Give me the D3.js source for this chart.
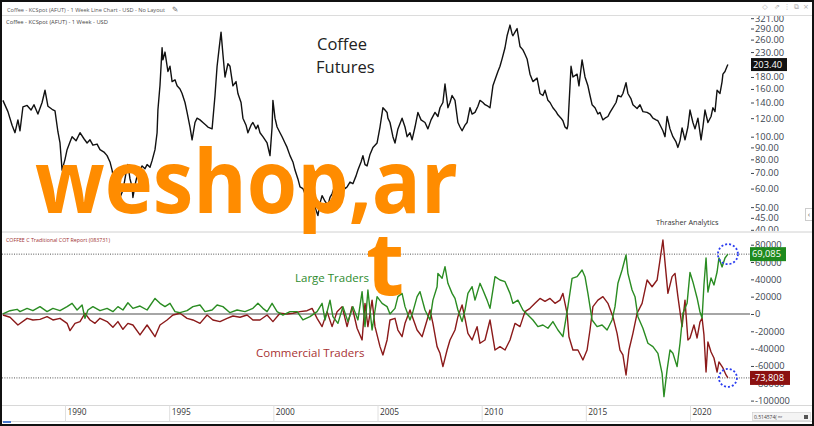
<!DOCTYPE html>
<html><head><meta charset="utf-8">
<script src="https://cdn.jsdelivr.net/npm/d3@7/dist/d3.min.js"></script>
<style>html,body{margin:0;padding:0;background:#fff;}svg{display:block;font-family:"Open Sans",sans-serif;}</style>
</head><body><svg id="c" width="814" height="426"></svg>
<script>
// ---------- DATA ----------
const xTickYears = [1990, 1995, 2000, 2005, 2010, 2015, 2020];
const priceTicks = [40, 45, 50, 60, 70, 80, 90, 100, 120, 140, 160, 180, 230, 260, 290, 321];
const cotTicks = [80000, 60000, 40000, 20000, 0, -20000, -40000, -60000, -80000, -100000];
const priceLast = 203.40, largeLast = 69085, commLast = -73808;

const priceYears = [1987.02,1987.26,1987.46,1987.60,1987.74,1987.84,1987.98,1988.18,1988.37,1988.51,1988.70,1988.90,1989.04,1989.18,1989.38,1989.52,1989.66,1989.76,1989.86,1990.00,1990.10,1990.24,1990.34,1990.53,1990.72,1990.91,1991.06,1991.20,1991.34,1991.54,1991.68,1991.87,1992.02,1992.16,1992.26,1992.40,1992.54,1992.64,1992.78,1992.93,1993.02,1993.12,1993.22,1993.26,1993.36,1993.46,1993.60,1993.70,1993.84,1993.94,1994.08,1994.18,1994.32,1994.42,1994.46,1994.56,1994.66,1994.70,1994.80,1994.94,1995.04,1995.14,1995.28,1995.38,1995.52,1995.62,1995.76,1995.86,1996.00,1996.10,1996.24,1996.34,1996.48,1996.62,1996.77,1996.86,1997.06,1997.20,1997.30,1997.39,1997.49,1997.58,1997.68,1997.82,1997.92,1998.06,1998.21,1998.30,1998.45,1998.54,1998.69,1998.78,1998.93,1999.02,1999.17,1999.26,1999.36,1999.50,1999.70,1999.84,1999.94,1999.98,2000.08,2000.18,2000.32,2000.42,2000.56,2000.66,2000.80,2000.94,2001.04,2001.18,2001.28,2001.42,2001.52,2001.66,2001.76,2001.90,2002.00,2002.14,2002.24,2002.34,2002.48,2002.62,2002.72,2002.82,2002.96,2003.06,2003.20,2003.30,2003.44,2003.54,2003.68,2003.82,2003.97,2004.06,2004.21,2004.30,2004.40,2004.50,2004.64,2004.78,2004.98,2005.12,2005.26,2005.36,2005.46,2005.50,2005.60,2005.74,2005.84,2005.98,2006.18,2006.32,2006.42,2006.56,2006.66,2006.80,2006.94,2007.09,2007.28,2007.42,2007.57,2007.76,2007.90,2008.00,2008.14,2008.24,2008.38,2008.48,2008.58,2008.72,2008.86,2008.96,2009.06,2009.20,2009.30,2009.44,2009.54,2009.68,2009.82,2009.92,2010.06,2010.16,2010.30,2010.40,2010.54,2010.64,2010.78,2010.88,2010.98,2011.12,2011.22,2011.36,2011.46,2011.50,2011.60,2011.70,2011.84,2011.98,2012.08,2012.18,2012.32,2012.46,2012.66,2012.80,2012.94,2013.04,2013.18,2013.28,2013.42,2013.57,2013.66,2013.81,2013.90,2014.00,2014.10,2014.14,2014.29,2014.38,2014.58,2014.67,2014.82,2014.96,2015.10,2015.20,2015.30,2015.44,2015.58,2015.68,2015.82,2015.92,2016.06,2016.16,2016.30,2016.45,2016.54,2016.69,2016.78,2016.93,2017.02,2017.17,2017.26,2017.46,2017.60,2017.74,2017.94,2018.08,2018.22,2018.37,2018.46,2018.61,2018.70,2018.80,2018.90,2019.04,2019.18,2019.33,2019.42,2019.52,2019.62,2019.76,2019.90,2020.00,2020.14,2020.24,2020.38,2020.53,2020.62,2020.72,2020.86,2021.01,2021.10,2021.20,2021.30,2021.44,2021.54,2021.58,2021.68,2021.78,2021.82];
const priceValues = [143,128,112,104,118,106,134,136,130,137,125,140,158,135,131,129,105,94,72,80,88,95,100,96,104,98,94,97,92,93,88,86,83,78,72,61,58,55,59,70,76,66,61,55,62,68,72,75,73,76,74,79,88,104,130,166,240,213,230,190,200,172,175,165,160,153,140,127,110,97,115,120,118,115,112,110,108,150,200,235,280,225,180,205,200,165,172,153,140,120,112,104,112,115,108,112,104,100,94,83,110,143,120,110,104,100,94,90,83,78,72,66,61,60,57,54,52,50,50,46,52,56,53,51,55,57,62,59,62,65,60,61,64,63,68,72,78,83,76,75,84,90,94,110,133,130,127,120,115,100,94,108,120,110,100,104,97,110,127,118,115,108,118,127,122,133,140,168,133,140,150,143,115,110,106,112,115,133,125,127,135,143,140,137,135,133,165,175,190,200,215,240,270,300,275,270,280,290,243,235,225,215,185,172,178,153,150,158,143,140,133,128,124,120,117,110,108,112,200,180,185,165,213,180,165,150,137,133,125,127,118,120,122,127,133,140,150,148,153,170,153,145,137,132,137,128,127,125,120,118,117,110,106,100,122,108,100,95,90,96,109,97,110,130,115,108,120,97,110,130,115,122,133,128,158,153,172,185,190,200,203.4];

const largeYears = [1987.02,1987.36,1987.70,1987.84,1988.18,1988.46,1988.80,1989.14,1989.42,1989.76,1990.10,1990.34,1990.58,1990.82,1990.96,1991.10,1991.34,1991.68,1992.02,1992.30,1992.54,1992.78,1993.02,1993.26,1993.60,1993.94,1994.32,1994.56,1994.80,1995.04,1995.28,1995.52,1995.86,1996.14,1996.48,1996.72,1997.06,1997.30,1997.58,1997.92,1998.26,1998.64,1999.02,1999.26,1999.50,1999.70,1999.94,2000.18,2000.46,2000.80,2001.14,2001.42,2001.76,2002.10,2002.34,2002.48,2002.72,2002.86,2003.10,2003.34,2003.58,2003.82,2004.06,2004.26,2004.40,2004.54,2004.74,2004.98,2005.22,2005.46,2005.60,2005.84,2005.98,2006.18,2006.32,2006.56,2006.70,2006.90,2007.04,2007.28,2007.52,2007.66,2007.86,2007.90,2008.10,2008.24,2008.38,2008.58,2008.72,2008.86,2009.06,2009.20,2009.34,2009.54,2009.68,2009.92,2010.06,2010.26,2010.40,2010.64,2010.88,2011.12,2011.36,2011.50,2011.74,2011.98,2012.22,2012.46,2012.70,2012.94,2013.18,2013.42,2013.66,2013.90,2014.14,2014.34,2014.58,2014.82,2014.96,2015.10,2015.30,2015.54,2015.78,2016.02,2016.26,2016.40,2016.54,2016.74,2016.93,2017.02,2017.22,2017.36,2017.50,2017.74,2017.98,2018.22,2018.46,2018.66,2018.75,2018.90,2019.04,2019.18,2019.38,2019.52,2019.66,2019.86,2020.00,2020.14,2020.34,2020.48,2020.58,2020.67,2020.77,2020.86,2021.01,2021.15,2021.30,2021.39,2021.54,2021.68,2021.82];
const largeValues = [0,3800,5400,2700,6500,3800,8500,2700,6500,3800,8500,12300,4600,10400,-5000,4600,8500,3800,6500,2700,8500,4600,13000,6500,9200,4600,18000,12300,8500,12300,2700,1500,3800,8500,10400,2700,4600,10400,8500,1500,4600,2700,6500,12300,6500,2700,12300,2700,-1200,2700,2700,-6900,-3100,2700,12300,-6900,16000,-3100,-10800,8500,-8800,8500,-6900,25800,-14600,27700,-18500,20000,12300,8500,0,6500,20000,23800,8500,-6900,2700,20000,25800,4600,-6900,16000,31500,46900,41200,54600,35400,23800,18000,4600,-8800,4600,23800,31500,16000,35400,27700,16000,6500,43100,39200,37300,23800,12300,16000,4600,-1200,-6900,-14600,-12700,-16500,-8800,-18500,-26200,8500,41200,43100,50800,43100,23800,-6900,-14600,-12700,-18500,-6900,8500,35400,50800,68100,46900,27700,20000,-3100,-16500,-33800,-37700,-45400,-68500,-95400,-64600,-41600,-45400,-60800,-33800,800,12300,48000,37000,18500,2300,-4600,33500,64700,25400,41600,33500,48500,64700,54300,64700,69085];

const commYears = [1987.02,1987.36,1987.74,1988.18,1988.46,1988.80,1989.14,1989.42,1989.76,1990.10,1990.24,1990.48,1990.72,1990.96,1991.20,1991.44,1991.68,1992.02,1992.30,1992.54,1992.78,1993.02,1993.26,1993.60,1993.94,1994.32,1994.56,1994.90,1995.18,1995.52,1995.86,1996.14,1996.48,1996.82,1997.10,1997.44,1997.78,1998.06,1998.40,1998.74,1999.02,1999.36,1999.70,1999.98,2000.32,2000.66,2000.94,2001.28,2001.62,2001.86,2002.10,2002.34,2002.58,2002.82,2003.06,2003.30,2003.54,2003.78,2004.02,2004.26,2004.40,2004.54,2004.74,2004.88,2005.12,2005.26,2005.46,2005.60,2005.84,2005.98,2006.18,2006.32,2006.56,2006.70,2006.90,2007.14,2007.38,2007.52,2007.66,2007.86,2008.00,2008.14,2008.34,2008.48,2008.72,2008.86,2009.06,2009.20,2009.34,2009.54,2009.78,2009.92,2010.16,2010.40,2010.64,2010.88,2011.12,2011.36,2011.60,2011.84,2012.08,2012.32,2012.56,2012.80,2013.04,2013.28,2013.52,2013.76,2013.90,2014.10,2014.19,2014.38,2014.62,2014.86,2015.06,2015.20,2015.34,2015.58,2015.82,2016.06,2016.30,2016.50,2016.64,2016.78,2016.93,2017.07,2017.26,2017.46,2017.70,2017.94,2018.18,2018.42,2018.56,2018.70,2018.85,2018.94,2019.14,2019.28,2019.42,2019.62,2019.76,2019.90,2020.00,2020.19,2020.34,2020.48,2020.58,2020.67,2020.77,2020.86,2021.01,2021.15,2021.30,2021.39,2021.58,2021.73,2021.82];
const commValues = [-1200,-3800,-12700,-5000,-6900,-6200,-3100,-6900,-5000,-10800,-19200,-10800,-8800,800,-6900,-10800,-5000,-8800,-15400,-8800,-17700,-10800,-12700,-24200,-12700,-26200,-12700,-6900,-1200,800,-5000,-6900,-10800,-1200,-6900,-8800,-5000,-2300,-3800,-1200,-6900,-6900,-1200,-8800,800,0,800,2700,3800,6500,-5000,-14600,2700,-14600,2700,8500,-14600,8500,-16500,-30000,12300,-14600,16000,-14600,-37700,-47300,-30000,-6900,-5000,-18500,-26200,-10800,4600,-5000,-18500,-26200,-6900,4600,-10800,-37700,-45400,-60800,-41600,-30000,-18500,-3100,10400,-5000,-22300,-30000,-14600,-33800,-30000,-6900,-41600,-37700,-41600,-30000,-10800,-14600,2700,6500,12300,18000,14600,18000,12300,16000,23800,800,-26200,-41600,-41600,-53100,-41600,-18500,8500,16000,20000,12300,-3100,-22300,-41600,-47300,-70400,-41600,-22300,800,12300,39200,31500,39200,62300,85400,46900,23800,43100,46900,20000,-14600,16000,-30000,-27700,-12700,-27700,-9200,-4600,-24200,-67000,-32300,-43900,-50800,-67000,-55400,-62300,-70400,-73808];

// ---------- LAYOUT ----------
const W = 814, H = 426;
const plotL = 2, plotR = 750;
const svg = d3.select("#c");
svg.append("rect").attr("width", W).attr("height", H).attr("fill", "#fff");

const x = d3.scaleLinear().domain([1990, 2020]).range([65, 690]);
const yP = d3.scaleLog().domain([40, 321]).range([229.8, 18.2]);
const yC = d3.scaleLinear().domain([-100000, 80000]).range([400.6, 244.7]);

const defs = svg.append("defs");
defs.append("clipPath").attr("id", "clipTop").append("rect").attr("x", plotL).attr("y", 16).attr("width", plotR - plotL).attr("height", 215);
defs.append("clipPath").attr("id", "clipBot").append("rect").attr("x", plotL).attr("y", 233).attr("width", plotR - plotL).attr("height", 172);
defs.append("clipPath").attr("id", "clipAxisTop").append("rect").attr("x", 745).attr("y", 16).attr("width", 69).attr("height", 215);

// header
svg.append("text").attr("x", 7).attr("y", 11.5).attr("font-size", 5.6).attr("fill", "#555")
  .text("Coffee - KCSpot (AFUT) - 1 Week Line Chart - USD - No Layout");
svg.append("text").attr("x", 172).attr("y", 12).attr("font-size", 7.5).attr("fill", "#555")
  .attr("font-family", "DejaVu Sans").text("✎");
svg.append("line").attr("x1", 2).attr("x2", 812).attr("y1", 15.5).attr("y2", 15.5).attr("stroke", "#dcdcdc");
svg.append("text").attr("x", 6).attr("y", 23.5).attr("font-size", 5.8).attr("fill", "#444")
  .text("Coffee - KCSpot (AFUT) - 1 Week - USD");
// top-right icons
const icons = [["◇", 765], ["⇗", 777], ["⋮", 787], ["⧉", 796], ["×", 806]];
icons.forEach(([t, xx]) => svg.append("text").attr("x", xx).attr("y", 8.5).attr("font-size", 7)
  .attr("text-anchor", "middle").attr("fill", "#aaa").attr("font-family", "DejaVu Sans").text(t));

// top panel price line
svg.append("path").attr("clip-path", "url(#clipTop)")
  .datum(priceYears.map((d, i) => [d, priceValues[i]]))
  .attr("fill", "none").attr("stroke", "#111").attr("stroke-width", 1.4).attr("stroke-linejoin", "round")
  .attr("d", d3.line().x(d => x(d[0])).y(d => yP(d[1])));

// right axis price (wrapped so clip is in page coordinates)
const axPWrap = svg.append("g").attr("clip-path", "url(#clipAxisTop)");
const axP = axPWrap.append("g").attr("transform", "translate(751,0)")
  .call(d3.axisRight(yP).tickValues(priceTicks).tickSize(3).tickPadding(1).tickFormat(d3.format(".2f")));
axP.select(".domain").remove();
axP.selectAll("line").attr("stroke", "#3c4550");
axP.selectAll("text").attr("font-size", 9.3).attr("fill", "#3c4550").attr("font-family", "Open Sans");

// price badge
svg.append("rect").attr("x", 751).attr("y", yP(priceLast) - 6.5).attr("width", 36).attr("height", 13).attr("fill", "#111");
svg.append("text").attr("x", 753).attr("y", yP(priceLast) + 3.3).attr("font-size", 9.3).attr("fill", "#fff").text(d3.format(".2f")(priceLast));

svg.append("text").attr("x", 317).attr("y", 49.5).attr("font-size", 16.5).attr("fill", "#222").text("Coffee");
svg.append("text").attr("x", 316).attr("y", 73).attr("font-size", 16.5).attr("fill", "#222").text("Futures");
svg.append("text").attr("x", 656).attr("y", 224.5).attr("font-size", 7.3).attr("fill", "#333").text("Thrasher Analytics");

// "<" side box
svg.append("rect").attr("x", 805.5).attr("y", 208.5).attr("width", 7).attr("height", 12).attr("fill", "#fff").attr("stroke", "#ccc");
svg.append("text").attr("x", 809).attr("y", 217).attr("font-size", 8).attr("text-anchor", "middle").attr("fill", "#666").text("‹");

// panel divider
svg.append("line").attr("x1", 2).attr("x2", 812).attr("y1", 232).attr("y2", 232).attr("stroke", "#d0d0d0");
svg.append("text").attr("x", 6).attr("y", 241.5).attr("font-size", 5.3).attr("fill", "#a03030")
  .text("COFFEE C Traditional COT Report (083731)");

// bottom panel
const gB = svg.append("g").attr("clip-path", "url(#clipBot)");
gB.append("line").attr("x1", plotL).attr("x2", plotR).attr("y1", yC(0)).attr("y2", yC(0)).attr("stroke", "#888").attr("stroke-width", 1.5);
[largeLast, commLast].forEach(v => gB.append("line").attr("x1", plotL).attr("x2", plotR)
  .attr("y1", yC(v)).attr("y2", yC(v)).attr("stroke", "#555").attr("stroke-width", 1).attr("stroke-dasharray", "1,1.4"));
gB.append("path").datum(commYears.map((d, i) => [d, commValues[i]]))
  .attr("fill", "none").attr("stroke", "#8b1a1a").attr("stroke-width", 1.4).attr("stroke-linejoin", "round")
  .attr("d", d3.line().x(d => x(d[0])).y(d => yC(d[1])));
gB.append("path").datum(largeYears.map((d, i) => [d, largeValues[i]]))
  .attr("fill", "none").attr("stroke", "#2a8c22").attr("stroke-width", 1.4).attr("stroke-linejoin", "round")
  .attr("d", d3.line().x(d => x(d[0])).y(d => yC(d[1])));

svg.append("text").attr("x", 295).attr("y", 282).attr("font-size", 11.5).attr("fill", "#2e8b2e").text("Large Traders");
svg.append("text").attr("x", 256).attr("y", 357).attr("font-size", 11.5).attr("fill", "#a83232").text("Commercial Traders");

const axC = svg.append("g").attr("transform", "translate(751,0)")
  .call(d3.axisRight(yC).tickValues(cotTicks).tickSize(3).tickPadding(1).tickFormat(d => String(d)));
axC.select(".domain").remove();
axC.selectAll("line").attr("stroke", "#3c4550");
axC.selectAll("text").attr("font-size", 9.3).attr("fill", "#3c4550").attr("font-family", "Open Sans");

// badges
svg.append("rect").attr("x", 750).attr("y", yC(largeLast) - 7).attr("width", 36).attr("height", 14).attr("fill", "#1e8a1e");
svg.append("text").attr("x", 752).attr("y", yC(largeLast) + 3.3).attr("font-size", 9.3).attr("fill", "#fff").text(d3.format(",")(largeLast));
svg.append("rect").attr("x", 750).attr("y", yC(commLast) - 7).attr("width", 40).attr("height", 14).attr("fill", "#8b1010");
svg.append("text").attr("x", 752).attr("y", yC(commLast) + 3.3).attr("font-size", 9.3).attr("fill", "#fff").text(d3.format(",")(commLast).replace("−", "-"));

// blue dotted circles
[[largeYears, largeValues, 10], [commYears, commValues, 9]].forEach(([ys, vs, r]) => {
  const n = ys.length - 1;
  svg.append("circle").attr("cx", x(ys[n])).attr("cy", yC(vs[n])).attr("r", r)
    .attr("fill", "none").attr("stroke", "#2a3cf0").attr("stroke-width", 1.8).attr("stroke-dasharray", "2,2");
});

// x axis
svg.append("line").attr("x1", 2).attr("x2", 812).attr("y1", 405.5).attr("y2", 405.5).attr("stroke", "#d8d8d8");
svg.append("line").attr("x1", 2).attr("x2", 812).attr("y1", 421.5).attr("y2", 421.5).attr("stroke", "#d8d8d8");
const axX = svg.append("g").attr("transform", "translate(0,405.5)")
  .call(d3.axisBottom(x).tickValues(xTickYears).tickSize(16).tickFormat(d3.format("d")));
axX.select(".domain").remove();
axX.selectAll("line").attr("stroke", "#e0e0e0");
axX.selectAll("text").attr("font-size", 8.3).attr("fill", "#333").attr("text-anchor", "start")
  .attr("x", 2).attr("y", 4).attr("dy", "0.71em").attr("font-family", "Open Sans");

// bottom-right box
svg.append("rect").attr("x", 752.5).attr("y", 412.5).attr("width", 58).attr("height", 8).attr("fill", "#f4f4f4").attr("stroke", "#ccc").attr("stroke-width", 0.6);
svg.append("text").attr("x", 754).attr("y", 418.5).attr("font-size", 5).attr("fill", "#444").text("0.514574( ᵐʳ");
svg.append("rect").attr("x", 804).attr("y", 415).attr("width", 4).attr("height", 4).attr("fill", "#555");
svg.append("rect").attr("x", 3).attr("y", 421).attr("width", 8).attr("height", 2).attr("fill", "#4a7ad0");

// watermark
svg.append("text").attr("x", 35).attr("y", 213).attr("font-size", 88).attr("font-weight", 700)
  .attr("fill", "#ff8c00").attr("textLength", 423).attr("lengthAdjust", "spacingAndGlyphs").text("weshop,ar");
svg.append("text").attr("x", 366).attr("y", 295).attr("font-size", 88).attr("font-weight", 700)
  .attr("fill", "#ff8c00").text("t");

// outer frame
svg.append("rect").attr("x", 1).attr("y", 1).attr("width", W - 2).attr("height", H - 2)
  .attr("fill", "none").attr("stroke", "#111").attr("stroke-width", 2);
</script></body></html>
